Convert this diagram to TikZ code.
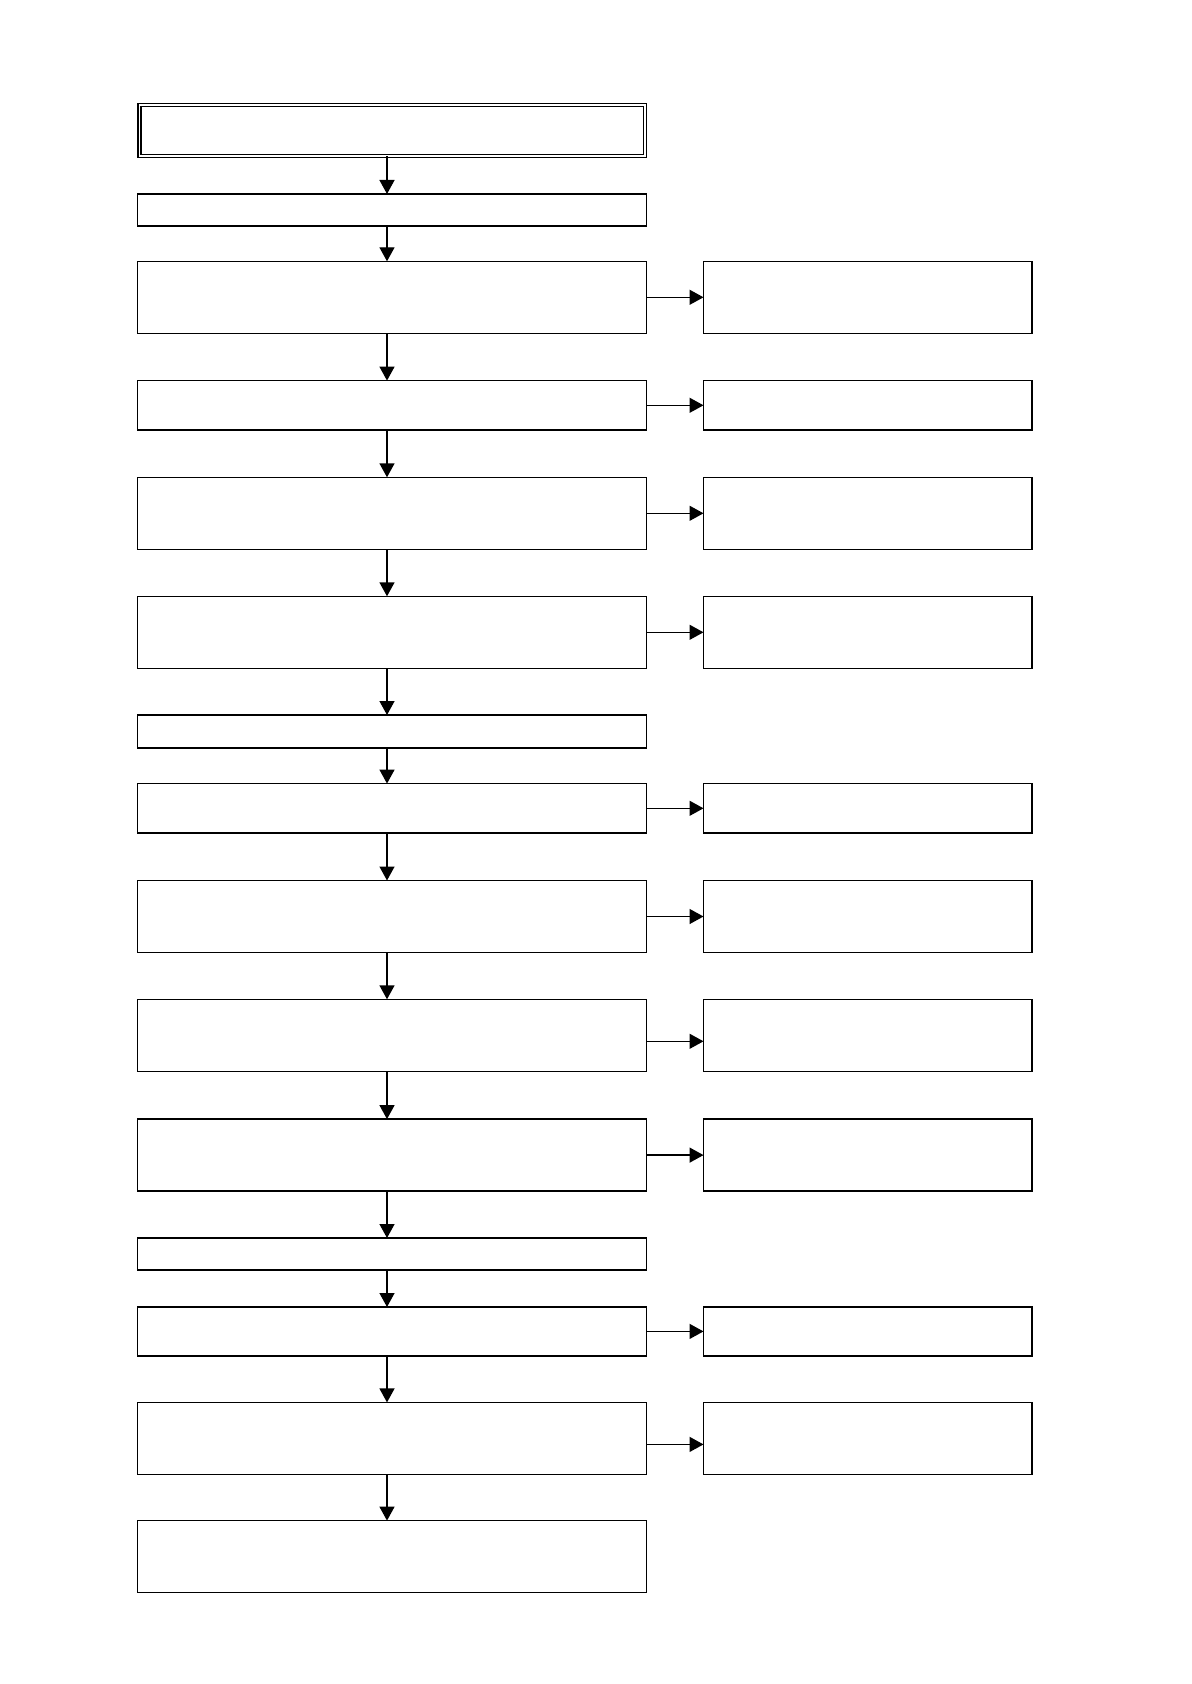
\documentclass[tikz,border=0pt]{standalone}
\usepackage{tikz}
\usetikzlibrary{arrows.meta}
\tikzset{
	box/.style={draw, line width=0.75pt, inner sep=0pt, outer sep=0pt, minimum width=254.5pt},
	sidebox/.style={box, minimum width=164.25pt},
	flow/.style={line width=0.7pt, -{Triangle[length=7pt,width=7.5pt]}}
}

\begin{document}
\begin{tikzpicture}[x=0.5pt,y=-0.5pt]
	\useasboundingbox[fill=white] (0,0) rectangle (1191,1684);
	% main column
	\node[box, line width=0.6pt, double, double distance=0.9pt, minimum width=252.6pt, minimum height=25.8pt] (m1) at (392,130.5) {};
	\node[box, line width=0.9pt, minimum height=16pt] (m2) at (392,210) {};
	\node[box, minimum height=36pt] (m3) at (392,297.3) {};
	\node[box, minimum height=24.7pt] (m4) at (392,405.3) {};
	\node[box, minimum height=36pt] (m5) at (392,513.3) {};
	\node[box, minimum height=36pt] (m6) at (392,632.3) {};
	\node[box, line width=0.9pt, minimum height=16.5pt] (m7) at (392,731.5) {};
	\node[box, minimum height=24.7pt] (m8) at (392,808.3) {};
	\node[box, minimum height=36pt] (m9) at (392,916.5) {};
	\node[box, minimum height=36pt] (m10) at (392,1035.3) {};
	\node[box, minimum height=36pt] (m11) at (392,1155.1) {};
	\node[box, line width=0.9pt, minimum height=16pt] (m12) at (392,1254) {};
	\node[box, minimum height=24.4pt] (m13) at (392,1331.4) {};
	\node[box, minimum height=36pt] (m14) at (392,1438.4) {};
	\node[box, minimum height=36pt] (m15) at (392,1556.6) {};
	% side column
	\node[sidebox, minimum height=36pt] (s3) at (867.75,297.3) {};
	\node[sidebox, minimum height=24.7pt] (s4) at (867.75,405.3) {};
	\node[sidebox, minimum height=36pt] (s5) at (867.75,513.3) {};
	\node[sidebox, minimum height=36pt] (s6) at (867.75,632.3) {};
	\node[sidebox, minimum height=24.7pt] (s8) at (867.75,808.3) {};
	\node[sidebox, minimum height=36pt] (s9) at (867.75,916.5) {};
	\node[sidebox, minimum height=36pt] (s10) at (867.75,1035.3) {};
	\node[sidebox, minimum height=36pt] (s11) at (867.75,1155.1) {};
	\node[sidebox, minimum height=24.4pt] (s13) at (867.75,1331.4) {};
	\node[sidebox, minimum height=36pt] (s14) at (867.75,1438.4) {};
	% downward arrows
	\foreach \a/\b in {m1/m2,m2/m3,m3/m4,m4/m5,m5/m6,m6/m7,m7/m8,m8/m9,m9/m10,m10/m11,m11/m12,m12/m13,m13/m14,m14/m15}
		\draw[flow] ([xshift=-2.5pt]\a.south) -- ([xshift=-2.5pt]\b.north);
	% side arrows
	\foreach \n in {3,4,5,6,8,9,11,13}
		\draw[flow] (m\n.east) -- (s\n.west);
	\draw[flow] ([yshift=-3pt]m10.east) -- ([yshift=-3pt]s10.west);
	\draw[flow] ([yshift=-3pt]m14.east) -- ([yshift=-3pt]s14.west);
\end{tikzpicture}
\end{document}
